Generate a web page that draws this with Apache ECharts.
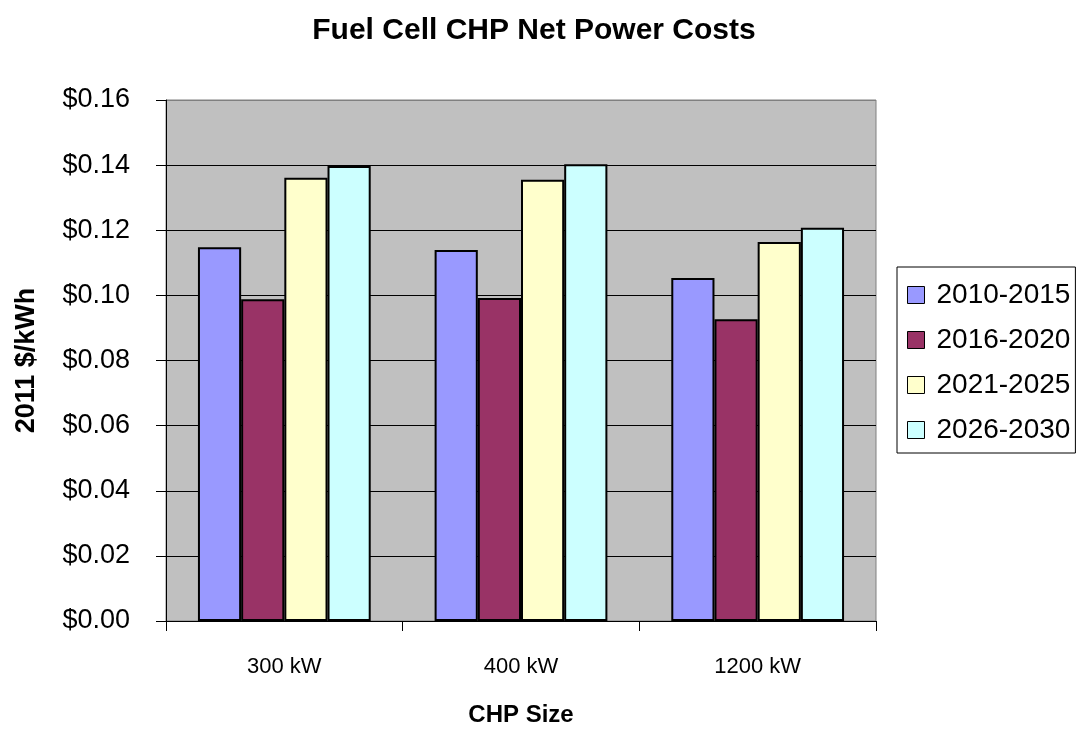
<!DOCTYPE html>
<html>
<head>
<meta charset="utf-8">
<script src="https://cdn.jsdelivr.net/npm/echarts@6/dist/echarts.min.js"></script>
<style>
  html, body { margin: 0; padding: 0; background: #fff; }
  #chart { width: 1078px; height: 729px; }
</style>
</head>
<body>
<div id="chart"></div>
<script>
// CHP system sizes on the category axis
const categories = ['300 kW', '400 kW', '1200 kW'];

// Net power cost in 2011 $/kWh for each deployment period
const period2010_2015 = [0.1148, 0.1139, 0.1053];
const period2016_2020 = [0.0988, 0.0992, 0.0927];
const period2021_2025 = [0.1361, 0.1355, 0.1164];
const period2026_2030 = [0.1397, 0.1403, 0.1208];

const seriesNames = ['2010-2015', '2016-2020', '2021-2025', '2026-2030'];
const seriesValues = [period2010_2015, period2016_2020, period2021_2025, period2026_2030];
const seriesColors = ['#9999FF', '#993366', '#FFFFCC', '#CCFFFF'];

// Value axis ticks
const yMin = 0, yMax = 0.16, yStep = 0.02;

const FONT = 'Liberation Sans, Arial, sans-serif';

const chart = echarts.init(document.getElementById('chart'), null, { renderer: 'canvas' });

// grid lines: black inside the plot, grey on the top edge
const splitColors = [];
for (let v = yMin; v <= yMax + 1e-9; v += yStep) splitColors.push('#000');
splitColors[splitColors.length - 1] = '#808080';

chart.setOption({
  animation: false,
  backgroundColor: '#fff',
  textStyle: { fontFamily: FONT, color: '#000' },
  title: {
    text: 'Fuel Cell CHP Net Power Costs',
    left: 529, top: 11, textAlign: 'center',
    textStyle: { fontFamily: FONT, fontSize: 30, fontWeight: 'bold', color: '#000' }
  },
  legend: {
    orient: 'vertical',
    left: 897, top: 267,
    padding: [14, 5, 9, 10],
    itemGap: 17,
    itemWidth: 17, itemHeight: 17,
    icon: 'rect',
    backgroundColor: '#fff',
    borderColor: '#000', borderWidth: 1,
    itemStyle: { borderColor: '#000', borderWidth: 1 },
    textStyle: { fontFamily: FONT, fontSize: 28, lineHeight: 28, color: '#000', padding: [0, 0, 0, 7] },
    data: seriesNames
  },
  grid: {
    left: 166, right: 202, top: 100, bottom: 108,
    outerBoundsMode: 'none',
    containLabel: false,
    show: true, backgroundColor: '#C0C0C0',
    borderColor: '#808080', borderWidth: 1
  },
  xAxis: {
    type: 'category',
    data: categories,
    name: 'CHP Size',
    nameLocation: 'middle',
    nameGap: 82,
    nameTextStyle: { fontFamily: FONT, fontSize: 24, fontWeight: 'bold', color: '#000' },
    axisLine: { lineStyle: { color: '#000', width: 1 } },
    axisTick: { show: true, length: 10, lineStyle: { color: '#000' } },
    axisLabel: { fontFamily: FONT, fontSize: 22, color: '#000', margin: 35 },
    splitLine: { show: false }
  },
  yAxis: {
    type: 'value',
    min: yMin, max: yMax, interval: yStep,
    name: '2011 $/kWh',
    nameLocation: 'middle',
    nameRotate: 90,
    nameGap: 126,
    nameTextStyle: { fontFamily: FONT, fontSize: 27, fontWeight: 'bold', color: '#000' },
    axisLine: { show: true, lineStyle: { color: '#000', width: 1 } },
    axisTick: { show: true, length: 10, lineStyle: { color: '#000' } },
    axisLabel: {
      fontFamily: FONT, fontSize: 27, color: '#000', margin: 36,
      formatter: v => '$' + v.toFixed(2)
    },
    splitLine: { show: true, lineStyle: { color: splitColors, width: 1 } }
  },
  series: seriesNames.map((name, i) => ({
    name: name,
    type: 'bar',
    data: seriesValues[i],
    barGap: '0%',
    barCategoryGap: '27%',
    itemStyle: { color: seriesColors[i], borderColor: '#000', borderWidth: 2 }
  }))
});
</script>
</body>
</html>
